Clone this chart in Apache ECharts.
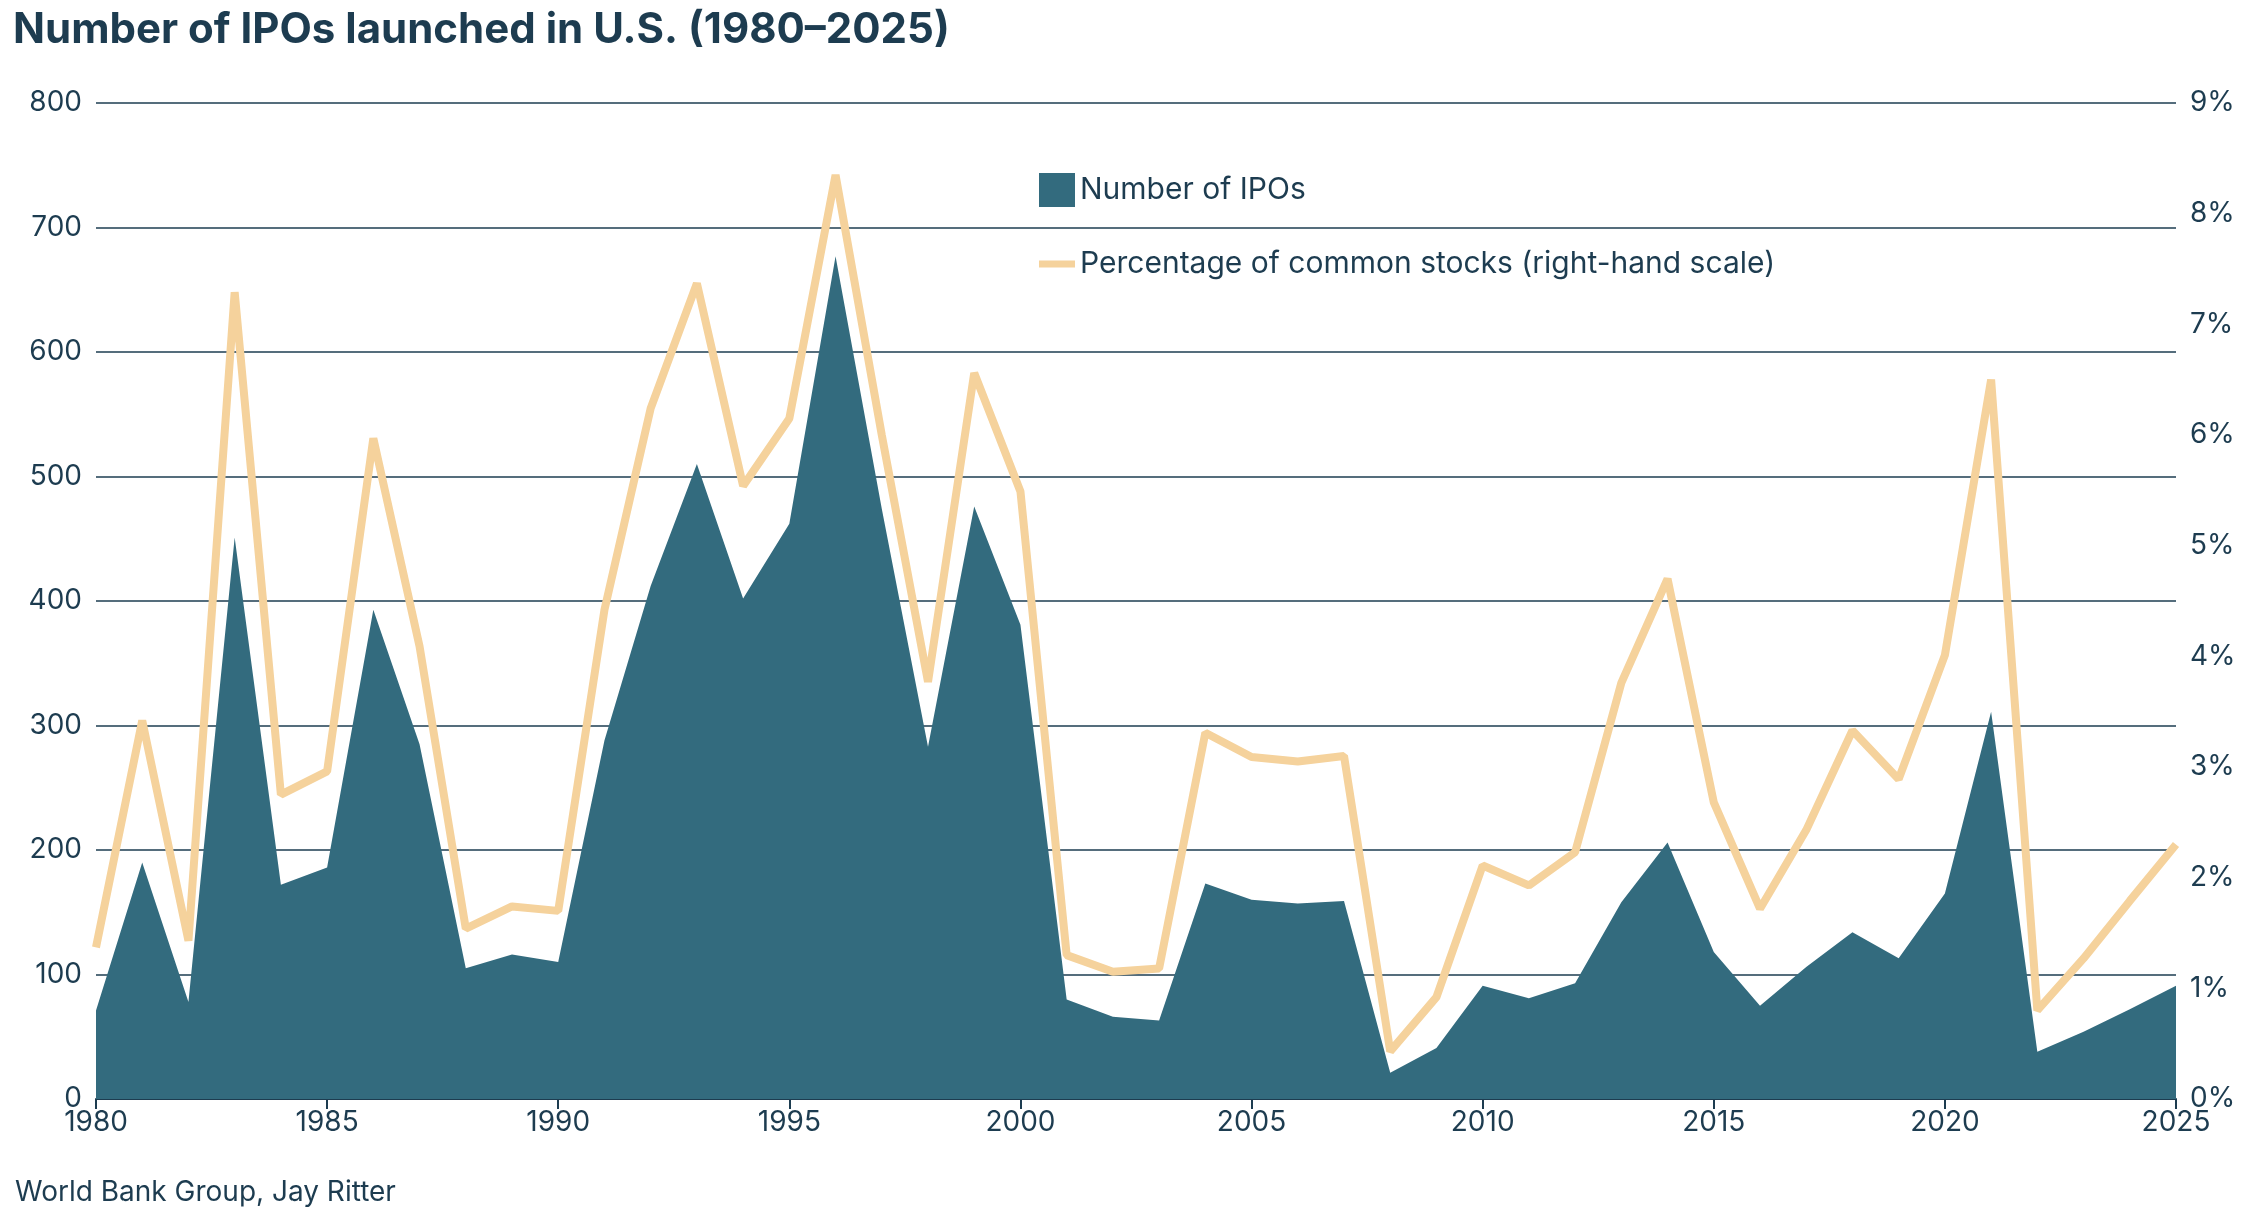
<!DOCTYPE html><html><head><meta charset="utf-8"><script src="https://cdn.jsdelivr.net/npm/echarts@6/dist/echarts.min.js"></script>
<style>html,body{margin:0;background:#fff}#c{width:2250px;height:1230px}</style></head><body><div id="c"></div><script>
const years=[];for(let y=1980;y<=2025;y++)years.push(String(y));
const ipos=[71,190,78,451,172,186,393,285,105,116,110,288,412,510,402,462,677,474,283,476,381,80,66,63,173,160,157,159,21,41,91,81,93,158,206,118,75,106,134,113,165,311,38,54,72,91];
const pct=[1.37,3.42,1.43,7.29,2.75,2.96,5.97,4.09,1.54,1.74,1.70,4.42,6.24,7.37,5.54,6.15,8.35,6.0,3.77,6.56,5.49,1.30,1.15,1.18,3.31,3.09,3.05,3.10,0.43,0.92,2.11,1.93,2.23,3.76,4.70,2.68,1.72,2.43,3.33,2.89,4.01,6.50,0.80,1.27,1.79,2.30];
const navy='#1d3c50',F='Inter, Roboto, sans-serif';
const ch=echarts.init(document.getElementById('c'));
ch.setOption({animation:false,textStyle:{fontFamily:F,color:navy},
title:[{text:'Number of IPOs launched in U.S. (1980–2025)',left:8,top:4,textStyle:{fontSize:42,fontWeight:'bold',color:navy,fontFamily:F}},
{text:'World Bank Group, Jay Ritter',left:10,top:1174,textStyle:{fontSize:28,fontWeight:'normal',color:navy,fontFamily:F}}],
legend:{orient:'vertical',left:1034,top:168,itemGap:42,itemWidth:36,itemHeight:34,textStyle:{fontSize:30,color:navy,fontFamily:F},
data:[{name:'Number of IPOs',icon:'rect'},{name:'Percentage of common stocks (right-hand scale)',icon:'path://M0,0 L10,0 L10,2 L0,2 Z'}]},
grid:{left:96,right:74,top:103,bottom:131},
xAxis:{type:'category',data:years,boundaryGap:false,axisLine:{lineStyle:{color:navy,width:2}},axisTick:{interval:4,length:10,lineStyle:{color:navy,width:2}},axisLabel:{interval:4,fontSize:28,color:navy,margin:10}},
yAxis:[{type:'value',min:0,max:800,interval:100,axisLabel:{fontSize:28,color:navy,margin:14},splitLine:{lineStyle:{color:navy,width:1.5}}},
{type:'value',min:0,max:9,interval:1,axisLabel:{fontSize:28,color:navy,margin:14,formatter:'{value}%'},splitLine:{show:false}}],
series:[{name:'Number of IPOs',type:'line',data:ipos,symbol:'none',lineStyle:{width:0},areaStyle:{color:'#336b7e',opacity:1},itemStyle:{color:'#336b7e'},z:2},
{name:'Percentage of common stocks (right-hand scale)',type:'line',yAxisIndex:1,data:pct,symbol:'none',lineStyle:{color:'#f5d29c',width:8},itemStyle:{color:'#f5d29c'},z:3}]});
</script></body></html>
